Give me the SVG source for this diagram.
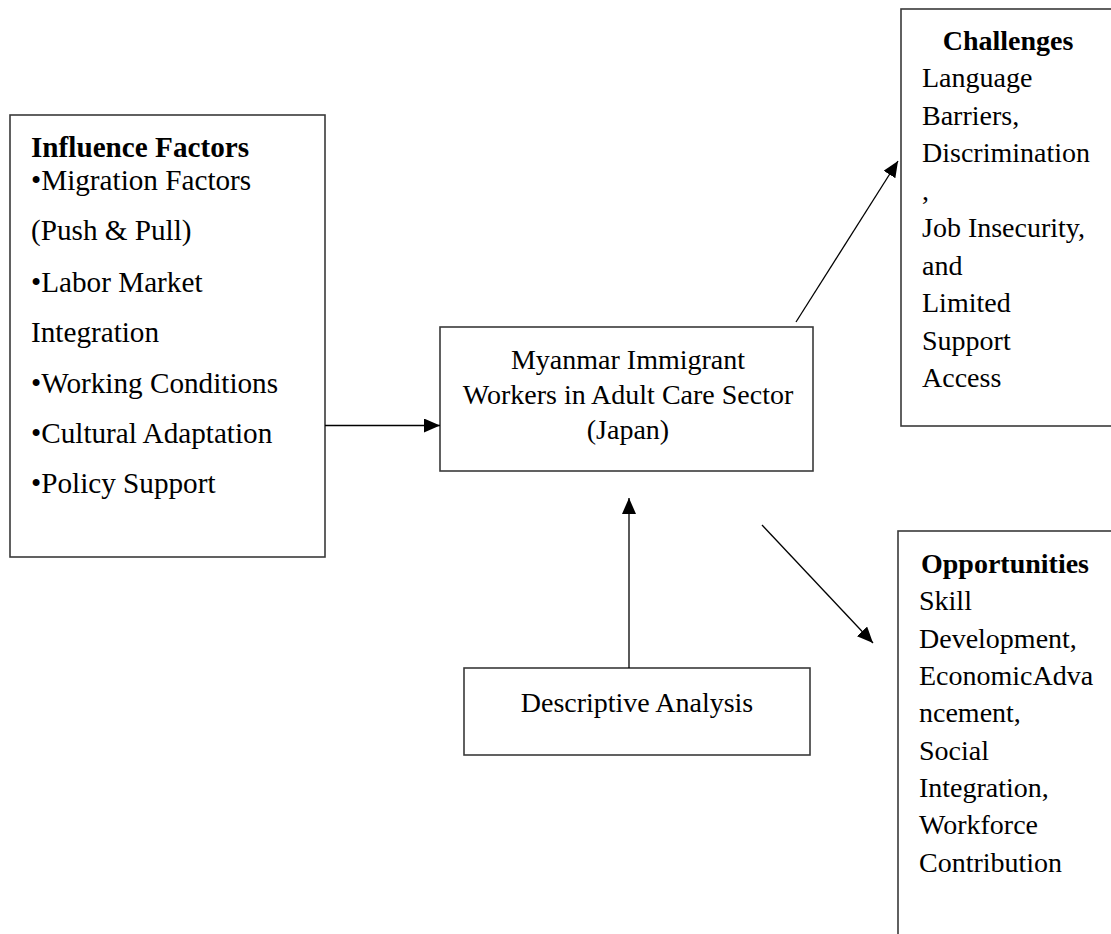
<svg xmlns="http://www.w3.org/2000/svg" width="1111" height="934" viewBox="0 0 1111 934">
<style>
.box{fill:#fff;stroke:#3a3a3a;stroke-width:1.6}
.t{font-family:"Liberation Serif","Times New Roman",serif;font-size:28px;fill:#000}
.l{font-size:29.2px}
.b{font-weight:bold}
.m{text-anchor:middle}
.c{stroke:#000;stroke-width:1.3;fill:none;marker-end:url(#ah)}
</style>
<defs>
<marker id="ah" viewBox="0 0 16 14" refX="16" refY="7" markerWidth="16" markerHeight="14" orient="auto" markerUnits="userSpaceOnUse">
<path d="M0,0 L16,7 L0,14 z" fill="#000"/>
</marker>
</defs>
<rect width="1111" height="934" fill="#fff"/>
<g id="influence">
<rect class="box" x="10" y="115" width="315" height="442"/>
<text class="t l b" x="31" y="157">Influence Factors</text>
<text class="t l" x="31" y="190">•Migration Factors</text>
<text class="t l" x="31" y="240">(Push &amp; Pull)</text>
<text class="t l" x="31" y="292">•Labor Market</text>
<text class="t l" x="31" y="342">Integration</text>
<text class="t l" x="31" y="393">•Working Conditions</text>
<text class="t l" x="31" y="443">•Cultural Adaptation</text>
<text class="t l" x="31" y="493">•Policy Support</text>
</g>
<g id="workers">
<rect class="box" x="440" y="327" width="373" height="144"/>
<text class="t m" x="628" y="369">Myanmar Immigrant</text>
<text class="t m" x="628" y="404">Workers in Adult Care Sector</text>
<text class="t m" x="628" y="439">(Japan)</text>
</g>
<g id="descriptive">
<rect class="box" x="464" y="668" width="346" height="87"/>
<text class="t m" x="637" y="712">Descriptive Analysis</text>
</g>
<g id="challenges">
<rect class="box" x="901" y="9" width="240" height="417"/>
<text class="t b m" x="1008" y="50">Challenges</text>
<text class="t" x="922" y="87">Language</text>
<text class="t" x="922" y="124.5">Barriers,</text>
<text class="t" x="922" y="162">Discrimination</text>
<text class="t" x="922" y="199.5">,</text>
<text class="t" x="922" y="237">Job Insecurity,</text>
<text class="t" x="922" y="274.5">and</text>
<text class="t" x="922" y="312">Limited</text>
<text class="t" x="922" y="349.5">Support</text>
<text class="t" x="922" y="387">Access</text>
</g>
<g id="opportunities">
<rect class="box" x="898" y="531" width="240" height="430"/>
<text class="t b m" x="1005" y="573">Opportunities</text>
<text class="t" x="919" y="610">Skill</text>
<text class="t" x="919" y="647.5">Development,</text>
<text class="t" x="919" y="685">EconomicAdva</text>
<text class="t" x="919" y="722">ncement,</text>
<text class="t" x="919" y="759.5">Social</text>
<text class="t" x="919" y="797">Integration,</text>
<text class="t" x="919" y="834">Workforce</text>
<text class="t" x="919" y="871.5">Contribution</text>
</g>
<g id="connectors">
<line class="c" x1="325" y1="425.5" x2="440" y2="425.5"/>
<line class="c" x1="629" y1="668" x2="629" y2="498"/>
<line class="c" x1="796" y1="322" x2="898" y2="161"/>
<line class="c" x1="762" y1="525" x2="873" y2="643"/>
</g>
</svg>
